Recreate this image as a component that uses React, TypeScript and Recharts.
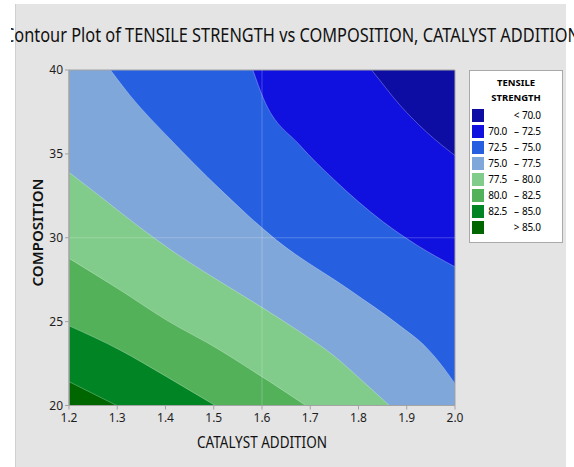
import {
  Area,
  CartesianGrid,
  ComposedChart,
  Legend,
  ReferenceArea,
  ReferenceLine,
  XAxis,
  YAxis,
} from "recharts";

const FONT = '"Noto Sans", "Open Sans", sans-serif';

const TITLE = "Contour Plot of TENSILE STRENGTH vs COMPOSITION, CATALYST ADDITION";
const X_LABEL = "CATALYST ADDITION";
const Y_LABEL = "COMPOSITION";
const LEGEND_TITLE = ["TENSILE", "STRENGTH"];

const X_TICKS = [1.2, 1.3, 1.4, 1.5, 1.6, 1.7, 1.8, 1.9, 2.0];
const Y_TICKS = [20, 25, 30, 35, 40];

const LEVELS = [70, 72.5, 75, 77.5, 80, 82.5, 85];
const BAND_COLORS = [
  "#0d0da3",
  "#1111df",
  "#2660e0",
  "#7fa7d9",
  "#81cc8b",
  "#53b15a",
  "#018524",
  "#006600",
];

// contour boundaries as [catalyst, composition];
// points past 20..40 sit outside the frame and get clipped
const LINE_70 = [[1.2, 56], [1.7, 44], [1.827, 40], [1.886, 37.9], [1.941, 36.3], [2.0, 34.9]];
const LINE_725 = [
  [1.2, 60], [1.55, 42.5], [1.581, 40], [1.603, 38.3], [1.679, 35.5],
  [1.748, 33.5], [1.851, 30.95], [1.921, 29.56], [2.0, 28.27],
];
const LINE_75 = [
  [1.2, 43.5], [1.286, 40], [1.326, 38.5], [1.409, 35.9], [1.513, 32.9], [1.63, 29.86],
  [1.782, 26.88], [1.886, 24.75], [1.941, 23.45], [1.975, 22.3], [2.0, 21.3],
];
const LINE_775 = [
  [1.2, 33.9], [1.264, 32.48], [1.341, 30.75], [1.424, 29.02], [1.501, 27.6], [1.6, 25.85],
  [1.679, 24.38], [1.747, 23.01], [1.803, 21.6], [1.863, 20.03], [2.0, 16.5],
];
const LINE_80 = [
  [1.2, 28.77], [1.306, 26.88], [1.402, 25.09], [1.513, 23.3], [1.575, 22.17],
  [1.617, 21.4], [1.689, 20.03], [2.0, 14],
];
const LINE_825 = [[1.2, 24.75], [1.306, 23.3], [1.402, 21.72], [1.503, 20.0], [2.0, 12]];
const LINE_85 = [[1.2, 21.42], [1.299, 20.0], [2.0, 10]];

const BOUNDARIES = [LINE_70, LINE_725, LINE_75, LINE_775, LINE_80, LINE_825, LINE_85].map((line) =>
  line.map(([x, y]) => ({ x, y }))
);

function levelLabel(i: number) {
  if (i === 0) return { low: "", sep: "<", high: LEVELS[0].toFixed(1) };
  if (i === LEVELS.length) return { low: "", sep: ">", high: LEVELS[LEVELS.length - 1].toFixed(1) };
  return { low: LEVELS[i - 1].toFixed(1), sep: "–", high: LEVELS[i].toFixed(1) };
}

function ContourLegend() {
  return (
    <div
      style={{
        width: 94,
        height: 173,
        background: "#ffffff",
        border: "1px solid #a9a9a9",
        boxSizing: "border-box",
        position: "relative",
        fontFamily: FONT,
        color: "#000",
      }}
    >
      <div
        style={{
          position: "absolute",
          top: 3.5,
          left: 0,
          width: "100%",
          textAlign: "center",
          fontSize: 9.5,
          fontWeight: 700,
          lineHeight: "15px",
        }}
      >
        {LEGEND_TITLE[0]}
        <br />
        {LEGEND_TITLE[1]}
      </div>
      {BAND_COLORS.map((color, i) => {
        const label = levelLabel(i);
        const top = 37.5 + i * 16;
        return (
          <div key={color} style={{ position: "absolute", left: 0, top, width: "100%", height: 13, fontSize: 10, lineHeight: "13px" }}>
            <div style={{ position: "absolute", left: 2, top: 0, width: 12, height: 13, background: color }} />
            <span style={{ position: "absolute", right: 55, top: 0, letterSpacing: -0.3 }}>{label.low}</span>
            <span style={{ position: "absolute", left: 46.5, top: 0, transform: "translateX(-50%)" }}>{label.sep}</span>
            <span style={{ position: "absolute", left: 52, top: 0, letterSpacing: -0.3 }}>{label.high}</span>
          </div>
        );
      })}
    </div>
  );
}

export default function App() {
  return (
    <div style={{ position: "absolute", left: 0, top: 0, width: 574, height: 467, background: "#ffffff", overflow: "hidden" }}>
      <div
        style={{
          position: "absolute",
          left: 15,
          top: 4,
          width: 550,
          height: 470,
          background: "#e4e4e4",
          borderLeft: "1px solid #cfcfcf",
        }}
      />
      <div style={{ position: "absolute", left: 0, top: 0 }}>
        <ComposedChart width={574} height={467} margin={{ top: 70, right: 119, bottom: 0, left: 0 }}>
          <CartesianGrid horizontal={false} vertical={false} fill={BAND_COLORS[0]} fillOpacity={1} stroke="none" />
          {BOUNDARIES.map((points, i) => (
            <Area
              key={LEVELS[i]}
              data={points}
              dataKey="y"
              name={String(LEVELS[i])}
              type="monotone"
              baseValue={Y_TICKS[0]}
              fill={BAND_COLORS[i + 1]}
              fillOpacity={1}
              stroke="#ffffff"
              strokeOpacity={0.35}
              strokeWidth={0.8}
              dot={false}
              activeDot={false}
              isAnimationActive={false}
            />
          ))}
          <ReferenceLine x={1.6} stroke="#ffffff" strokeOpacity={0.22} />
          <ReferenceLine y={30} stroke="#ffffff" strokeOpacity={0.22} />
          <XAxis
            type="number"
            dataKey="x"
            domain={[X_TICKS[0], X_TICKS[X_TICKS.length - 1]]}
            ticks={X_TICKS}
            allowDataOverflow
            height={61.5}
            tickSize={4}
            tickMargin={4}
            axisLine={{ stroke: "#a3a3a3" }}
            tickLine={{ stroke: "#a3a3a3" }}
            tick={{ fontSize: 12, fill: "#1e1e1e", fontFamily: FONT }}
            tickFormatter={(v) => Number(v).toFixed(1)}
          />
          <YAxis
            type="number"
            domain={[Y_TICKS[0], Y_TICKS[Y_TICKS.length - 1]]}
            ticks={Y_TICKS}
            allowDataOverflow
            width={69}
            tickSize={4}
            tickMargin={2}
            axisLine={{ stroke: "#a3a3a3" }}
            tickLine={{ stroke: "#a3a3a3" }}
            tick={{ fontSize: 12, fill: "#1e1e1e", fontFamily: FONT }}
          />
          <ReferenceArea
            x1={X_TICKS[0]}
            x2={X_TICKS[X_TICKS.length - 1]}
            y1={Y_TICKS[0]}
            y2={Y_TICKS[Y_TICKS.length - 1]}
            fill="none"
            stroke="#a3a3a3"
            ifOverflow="visible"
          />
          <Legend
            layout="horizontal"
            verticalAlign="middle"
            align="center"
            content={() => <ContourLegend />}
            wrapperStyle={{ left: 469, top: 70, width: 94, height: 173 }}
          />
        </ComposedChart>
      </div>
      <svg
        width={574}
        height={467}
        style={{ position: "absolute", left: 0, top: 0, pointerEvents: "none", fontFamily: FONT }}
      >
        <defs>
          <clipPath id="title-clip">
            <rect x={11} y={0} width={563} height={60} />
          </clipPath>
        </defs>
        <text x={4} y={42} fontSize={19} fill="#111" textLength={576} lengthAdjust="spacingAndGlyphs" clipPath="url(#title-clip)">
          {TITLE}
        </text>
        <text x={262} y={448} fontSize={16} fill="#111" textAnchor="middle" textLength={130} lengthAdjust="spacingAndGlyphs">
          {X_LABEL}
        </text>
        <text
          transform="translate(43,232.5) rotate(-90)"
          fontSize={14}
          fontWeight={600}
          fill="#111"
          textAnchor="middle"
          textLength={108}
          lengthAdjust="spacingAndGlyphs"
        >
          {Y_LABEL}
        </text>
      </svg>
    </div>
  );
}
